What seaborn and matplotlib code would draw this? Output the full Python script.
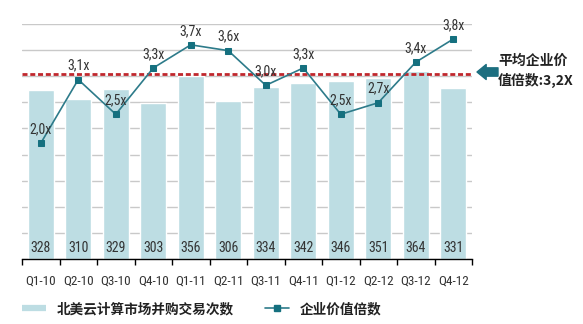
import os
import numpy as np
import pandas as pd
import matplotlib
matplotlib.use("Agg")
import matplotlib.pyplot as plt
import seaborn as sns
from matplotlib import font_manager
from matplotlib.font_manager import FontProperties
from matplotlib.lines import Line2D

# ---- data -------------------------------------------------------------
quarters = ["Q1-10", "Q2-10", "Q3-10", "Q4-10", "Q1-11", "Q2-11",
            "Q3-11", "Q4-11", "Q1-12", "Q2-12", "Q3-12", "Q4-12"]
deal_counts = [328, 310, 329, 303, 356, 306, 334, 342, 346, 351, 364, 331]
ev_multiples = [2.0, 3.1, 2.5, 3.3, 3.7, 3.6, 3.0, 3.3, 2.5, 2.7, 3.4, 3.8]
average_multiple = 3.2

bar_legend = "北美云计算市场并购交易次数"
line_legend = "企业价值倍数"
avg_note = "平均企业价\n值倍数:3,2X"

# ---- style ------------------------------------------------------------
BAR = "#bddde3"
LINE = "#2d7b8a"
MARK = "#15707f"
RED = "#c0272d"
GRID = "#c9c9c9"
TEXT = "#333333"

sns.set_theme(style="white")
plt.rcParams["font.family"] = ["Liberation Sans", "Noto Sans CJK SC", "DejaVu Sans"]
cjk = ["Noto Sans CJK SC", "DejaVu Sans"]


def narrow_font():
    """Pick a narrow sans face for the numeric labels, if one is installed."""
    wanted = ["liberationsansnarrow-regular", "arialnarrow", "arialn.",
              "robotocondensed-regular", "notosans-condensed.",
              "opensans-condensed", "opensanscondensed", "opensans_condensed-regular",
              "dejavusanscondensed."]
    files = [f.fname for f in font_manager.fontManager.ttflist]
    for key in wanted:
        for path in files:
            if key in os.path.basename(path).lower():
                return FontProperties(fname=path), True
    return FontProperties(family="Liberation Sans"), False


num_fp, is_narrow = narrow_font()
num_size = 10.0 if is_narrow else 7.6

W, H = 583, 324
fig = plt.figure(figsize=(W / 100, H / 100), dpi=100)
ax = fig.add_axes([22 / W, 65 / H, 450 / W, 235 / H])

df = pd.DataFrame({"quarter": quarters, "deals": deal_counts,
                   "multiple": ev_multiples})

# bars: quarterly deal counts
sns.barplot(data=df, x="quarter", y="deals", color=BAR, saturation=1,
            width=0.69, ax=ax, zorder=2)
top = 456
ax.set_ylim(0, top)
ax.set_xlim(-0.5, len(quarters) - 0.5)
ax.set_yticks(np.linspace(0, top, 10))
ax.yaxis.grid(True, color=GRID, lw=1)
ax.set_axisbelow(True)
ax.tick_params(axis="y", which="both", left=False, right=False,
               labelleft=False, length=0)
ax.set_xlabel("")
ax.set_ylabel("")
for s in ["top", "left", "right"]:
    ax.spines[s].set_visible(False)
ax.spines["bottom"].set_color("black")
ax.spines["bottom"].set_linewidth(1)
ax.set_xticks(np.arange(len(quarters)))
ax.set_xticklabels(quarters, color=TEXT)
for t in ax.get_xticklabels():
    t.set_fontproperties(num_fp)
    t.set_fontsize(num_size - 0.5)
ax.tick_params(axis="x", which="major", length=0, pad=11)
ax.set_xticks(np.arange(-0.5, len(quarters), 1), minor=True)
ax.tick_params(axis="x", which="minor", length=4, width=1, color="black",
               direction="out", bottom=True)

for i, v in enumerate(deal_counts):
    ax.annotate(str(v), (i, 0), xytext=(0, 11), textcoords="offset pixels",
                ha="center", va="center", fontproperties=num_fp,
                fontsize=num_size, color=TEXT, zorder=3)

# line: enterprise value multiples on a secondary axis
ax2 = ax.twinx()
sns.lineplot(x=np.arange(len(quarters)), y=ev_multiples, ax=ax2, color=LINE,
             lw=1.2, marker="s", markersize=5, markerfacecolor=MARK,
             markeredgecolor=MARK, zorder=4)
ax2.set_ylim(0, 4.06)
ax2.axhline(average_multiple, color=RED, lw=2.0, ls=(0, (1.8, 1.0)), zorder=3)
ax2.set_yticks([])
ax2.tick_params(axis="y", which="both", left=False, right=False, length=0)
ax2.set_ylabel("")
for s in ["top", "left", "right", "bottom"]:
    ax2.spines[s].set_visible(False)

for i, v in enumerate(ev_multiples):
    ax2.annotate(f"{v:.1f}".replace(".", ",") + "x", (i, v), xytext=(0, 14),
                 textcoords="offset pixels", ha="center", va="center",
                 fontproperties=num_fp, fontsize=num_size, color=TEXT, zorder=5)

# average callout on the right
ax2.annotate("", xy=(477, H - 72), xycoords="figure pixels",
             xytext=(498, H - 72), textcoords="figure pixels",
             arrowprops=dict(arrowstyle="simple,head_length=0.55,head_width=0.9,tail_width=0.5",
                             color="#1d6f80", shrinkA=0, shrinkB=0))
fig.text(498 / W, (H - 71) / H, avg_note, ha="left", va="center",
         fontsize=10, fontweight="bold", linespacing=1.45, color="#222222",
         family=cjk)

# legend
handles = [Line2D([], [], color=BAR, lw=4.5, solid_capstyle="butt"),
           Line2D([], [], color=LINE, lw=1.2, marker="s", markersize=4,
                  markerfacecolor=MARK, markeredgecolor=MARK)]
leg = fig.legend(handles, [bar_legend, line_legend], loc="center left",
                 bbox_to_anchor=(22 / W, (H - 309) / H), ncol=2, frameon=False,
                 handlelength=1.75, handletextpad=0.8, columnspacing=2.3,
                 borderpad=0, borderaxespad=0,
                 prop={"family": cjk, "size": 9.8, "weight": "bold"})
for t in leg.get_texts():
    t.set_color("#222222")

fig.savefig("out.png", dpi=100)
